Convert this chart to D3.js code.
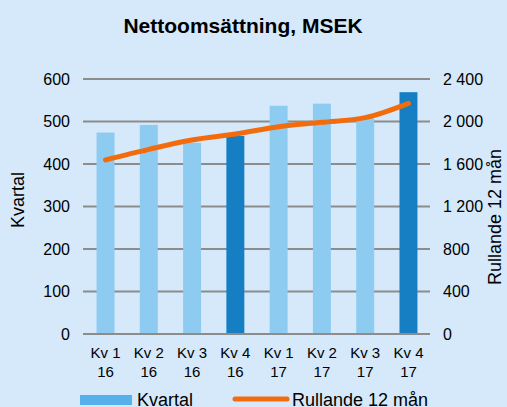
<!DOCTYPE html>
<html>
<head>
<meta charset="utf-8">
<script src="https://cdnjs.cloudflare.com/ajax/libs/d3/7.8.5/d3.min.js"></script>
<style>
  html, body { margin: 0; padding: 0; background: #d5e9fb; }
  text { font-family: "Liberation Sans", Arial, sans-serif; fill: #000; }
</style>
</head>
<body>
<div id="chart"></div>
<script>
"use strict";

// Data
var quarters = ["Kv 1", "Kv 2", "Kv 3", "Kv 4", "Kv 1", "Kv 2", "Kv 3", "Kv 4"];
var years = ["16", "16", "16", "16", "17", "17", "17", "17"];
var kvartal = [474, 492, 450, 466, 537, 542, 509, 569];
var rullande = [1638, 1738, 1826, 1882, 1951, 1992, 2036, 2171];
var leftTicks = [0, 100, 200, 300, 400, 500, 600];
var rightTicks = [0, 400, 800, 1200, 1600, 2000, 2400];

var W = 507, H = 407;
var margin = { top: 79, right: 77, bottom: 73, left: 84 };
var width = W - margin.left - margin.right;
var height = H - margin.top - margin.bottom;

var svg = d3.select("#chart").append("svg")
    .attr("width", W)
    .attr("height", H);

svg.append("rect").attr("width", W).attr("height", H).attr("fill", "#d5e9fb");

// Title
svg.append("text")
    .attr("x", 243)
    .attr("y", 33)
    .attr("text-anchor", "middle")
    .style("font-size", "21px")
    .style("font-weight", "bold")
    .text("Nettoomsättning, MSEK");

var g = svg.append("g")
    .attr("transform", "translate(" + margin.left + "," + margin.top + ")");

var idx = d3.range(kvartal.length);
var xScale = d3.scaleBand().domain(idx).range([0, width]).paddingInner(0.585).paddingOuter(0.29);
var yLeft = d3.scaleLinear().domain([0, 600]).range([height, 0]);
var yRight = d3.scaleLinear().domain([0, 2400]).range([height, 0]);

var fmt = d3.formatLocale({ decimal: ",", thousands: "\u00a0", grouping: [3], currency: ["", " kr"] }).format(",d");

// Gridlines
g.selectAll("line.grid")
    .data(leftTicks)
    .enter().append("line")
    .attr("class", "grid")
    .attr("x1", -1)
    .attr("x2", width)
    .attr("y1", function (d) { return yLeft(d); })
    .attr("y2", function (d) { return yLeft(d); })
    .attr("stroke", "#8c8c8c")
    .attr("stroke-width", 2);

// Left ticks
g.selectAll("text.lt")
    .data(leftTicks)
    .enter().append("text")
    .attr("class", "lt")
    .attr("x", -14)
    .attr("y", function (d) { return yLeft(d); })
    .attr("dy", "0.35em")
    .attr("text-anchor", "end")
    .style("font-size", "16px")
    .text(function (d) { return d; });

// Right ticks
g.selectAll("text.rt")
    .data(rightTicks)
    .enter().append("text")
    .attr("class", "rt")
    .attr("x", width + 13)
    .attr("y", function (d) { return yRight(d); })
    .attr("dy", "0.35em")
    .attr("text-anchor", "start")
    .style("font-size", "16px")
    .text(function (d) { return fmt(d); });

// Bars
g.selectAll("rect.bar")
    .data(kvartal)
    .enter().append("rect")
    .attr("class", "bar")
    .attr("x", function (d, i) { return xScale(i); })
    .attr("width", xScale.bandwidth())
    .attr("y", function (d) { return yLeft(d); })
    .attr("height", function (d) { return height - yLeft(d); })
    .attr("fill", function (d, i) { return quarters[i] === "Kv 4" ? "#167ec2" : "#8ecbf1"; });

// redraw baseline over bars
g.append("line")
    .attr("x1", -1).attr("x2", width)
    .attr("y1", yLeft(0)).attr("y2", yLeft(0))
    .attr("stroke", "#8c8c8c").attr("stroke-width", 2);

// Line
var line = d3.line()
    .x(function (d, i) { return xScale(i) + xScale.bandwidth() / 2; })
    .y(function (d) { return yRight(d); })
    .curve(d3.curveMonotoneX);

g.append("path")
    .datum(rullande)
    .attr("d", line)
    .attr("fill", "none")
    .attr("stroke", "#f26c0d")
    .attr("stroke-width", 5)
    .attr("stroke-linecap", "round");

// X labels
var xl = g.selectAll("text.xl")
    .data(idx)
    .enter().append("text")
    .attr("class", "xl")
    .attr("text-anchor", "middle")
    .style("font-size", "15px");
xl.append("tspan")
    .attr("x", function (i) { return xScale(i) + xScale.bandwidth() / 2; })
    .attr("y", height + 24)
    .text(function (i) { return quarters[i]; });
xl.append("tspan")
    .attr("x", function (i) { return xScale(i) + xScale.bandwidth() / 2; })
    .attr("y", height + 43)
    .text(function (i) { return years[i]; });

// Axis titles
svg.append("text")
    .attr("transform", "translate(24,200)rotate(-90)")
    .attr("text-anchor", "middle")
    .style("font-size", "18px")
    .text("Kvartal");

svg.append("text")
    .attr("transform", "translate(501,217)rotate(-90)")
    .attr("text-anchor", "middle")
    .style("font-size", "18px")
    .text("Rullande 12 mån");

// Legend
var leg = svg.append("g");
leg.append("rect")
    .attr("x", 80).attr("y", 395)
    .attr("width", 52).attr("height", 10)
    .attr("fill", "#55b0ec");
leg.append("text")
    .attr("x", 137).attr("y", 406)
    .style("font-size", "18px")
    .text("Kvartal");
leg.append("line")
    .attr("x1", 235).attr("x2", 287)
    .attr("y1", 399).attr("y2", 399)
    .attr("stroke", "#f26c0d").attr("stroke-width", 5)
    .attr("stroke-linecap", "round");
leg.append("text")
    .attr("x", 292).attr("y", 406)
    .style("font-size", "18px")
    .text("Rullande 12 mån");
</script>
</body>
</html>
